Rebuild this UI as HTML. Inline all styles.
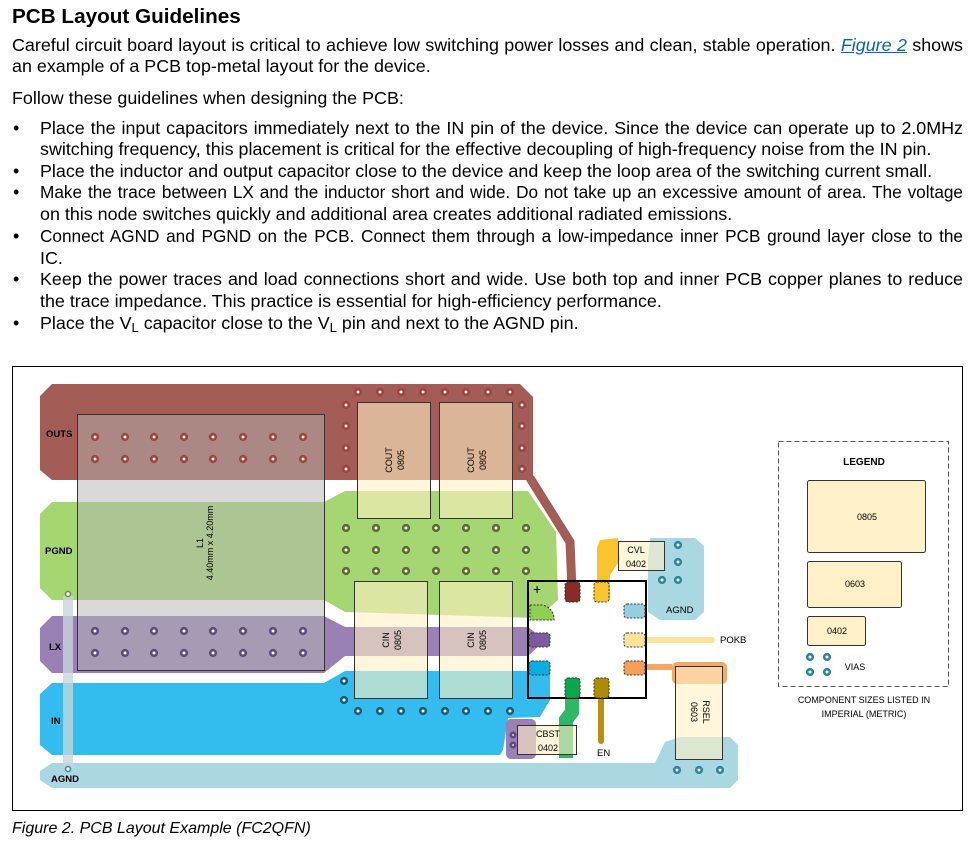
<!DOCTYPE html>
<html><head><meta charset="utf-8"><style>
body{margin:0;width:978px;height:844px;background:#fff;font-family:"Liberation Sans",Arial,sans-serif;color:#000;position:relative;overflow:hidden}
.t{position:absolute;white-space:nowrap;font-size:17.9px;line-height:20px}
.j{width:923px;text-align:justify;text-align-last:justify;white-space:normal;height:20px;overflow:hidden}
.h{position:absolute;left:12px;top:5px;font-size:20.7px;font-weight:bold}
.b{position:absolute;left:13px;font-size:18px;line-height:20px}
a{color:#0563c1;font-style:italic;text-decoration:underline}
svg{position:absolute;left:0;top:0}
svg text{font-family:"Liberation Sans",Arial,sans-serif}
</style></head><body>
<div class="h">PCB Layout Guidelines</div>
<div class="t j" style="left:12px;top:35px;width:951px">Careful circuit board layout is critical to achieve low switching power losses and clean, stable operation. <a>Figure 2</a> shows</div>
<div class="t" style="left:12px;top:56px">an example of a PCB top-metal layout for the device.</div>
<div class="t" style="left:12px;top:88px">Follow these guidelines when designing the PCB:</div>
<div class="b" style="top:118px">•</div><div class="t j" style="left:40px;top:118px">Place the input capacitors immediately next to the IN pin of the device. Since the device can operate up to 2.0MHz</div>
<div class="t" style="left:40px;top:139px">switching frequency, this placement is critical for the effective decoupling of high-frequency noise from the IN pin.</div>
<div class="b" style="top:161px">•</div><div class="t" style="left:40px;top:161px">Place the inductor and output capacitor close to the device and keep the loop area of the switching current small.</div>
<div class="b" style="top:182px">•</div><div class="t j" style="left:40px;top:182px;font-size:17.2px">Make the trace between LX and the inductor short and wide. Do not take up an excessive amount of area. The voltage</div>
<div class="t" style="left:40px;top:204px">on this node switches quickly and additional area creates additional radiated emissions.</div>
<div class="b" style="top:226px">•</div><div class="t j" style="left:40px;top:226px;font-size:17.2px">Connect AGND and PGND on the PCB. Connect them through a low-impedance inner PCB ground layer close to the</div>
<div class="t" style="left:40px;top:248px">IC.</div>
<div class="b" style="top:269px">•</div><div class="t j" style="left:40px;top:269px">Keep the power traces and load connections short and wide. Use both top and inner PCB copper planes to reduce</div>
<div class="t" style="left:40px;top:291px">the trace impedance. This practice is essential for high-efficiency performance.</div>
<div class="b" style="top:313px">•</div><div class="t" style="left:40px;top:313px">Place the V<sub style="font-size:13px;vertical-align:-3px">L</sub> capacitor close to the V<sub style="font-size:13px;vertical-align:-3px">L</sub> pin and next to the AGND pin.</div>
<div class="t" style="left:12px;top:819px;font-style:italic;font-size:16px">Figure 2. PCB Layout Example (FC2QFN)</div>

<svg width="978" height="844" viewBox="0 0 978 844">
<rect x="12.5" y="366.5" width="950" height="444" fill="none" stroke="#000" stroke-width="1"/>
<polygon points="52,763 655,763 665,742 680,737 730,737 738,745 738,780 730,788 52,788 40,780 40,771" fill="#a9d7e2"/>
<polygon points="650,538 695,538 704,546 704,612 695,620 660,620 648,612 648,560" fill="#a9d7e2"/>
<polygon points="52,384 520,384 533,397 533,480 52,480 40,470 40,396" fill="#a45c56"/>
<polyline points="530,478 570,542 572,590" fill="none" stroke="#a45c56" stroke-width="9"/>
<polygon points="52,502 324,502 345,491 528,491 556,532 558,600 538,618 345,612 324,600 52,600 40,588 40,514" fill="#a6d672"/>
<polygon points="52,616 324,616 345,627 528,627 545,640 528,656 345,656 324,673 52,673 40,661 40,628" fill="#9a80b4"/>
<polygon points="52,683 324,683 345,671 528,671 550,665 550,700 540,717 508,718 503,750 500,755 52,755 40,745 40,694" fill="#33bdee"/>
<rect x="506" y="719" width="30" height="40" rx="5" fill="#9a80b4"/>
<polyline points="572,690 572,712 566,720 566,758" fill="none" stroke="#2db866" stroke-width="14"/>
<line x1="601" y1="690" x2="601" y2="741" stroke="#b8900a" stroke-width="6" stroke-linecap="round"/>
<line x1="640" y1="640" x2="712" y2="640" stroke="#fde39a" stroke-width="6" stroke-linecap="round"/>
<polyline points="640,667 672,667" fill="none" stroke="#f5a86a" stroke-width="6"/>
<rect x="672" y="662" width="55" height="22" rx="5" fill="#f5a86a"/>
<polygon points="600,540 618,538 620,560 610,575 610,600 597,600 597,548" fill="#fbc42c"/>
<rect x="77.5" y="414.5" width="247" height="256" fill="#b4b4b4" fill-opacity="0.5" stroke="#333" stroke-width="1"/>
<text transform="translate(203,543) rotate(-90)" font-size="9" text-anchor="middle">L1</text>
<text transform="translate(213,543) rotate(-90)" font-size="9" text-anchor="middle">4.40mm x 4.20mm</text>
<rect x="63" y="596" width="10" height="173" fill="#c8d4dc" opacity="0.8"/>
<circle cx="68" cy="594" r="2.5" fill="#fff" stroke="#6f8a3a" stroke-width="1.5"/>
<circle cx="68" cy="769" r="2.5" fill="#fff" stroke="#2b86a0" stroke-width="1.5"/>
<g fill="#fff0c4" fill-opacity="0.6" stroke="#333" stroke-width="1">
<rect x="357.5" y="402.5" width="73" height="116"/>
<rect x="439.5" y="402.5" width="73" height="116"/>
<rect x="354.5" y="581.5" width="73" height="117"/>
<rect x="439.5" y="581.5" width="73" height="117"/>
<rect x="618.5" y="541.5" width="46" height="29"/>
<rect x="517.5" y="725.5" width="59" height="29"/>
<rect x="675.5" y="666.5" width="47" height="93"/>
</g>
<g font-size="9" text-anchor="middle">
<text transform="translate(392,460) rotate(-90)">COUT</text><text transform="translate(404,460) rotate(-90)">0805</text>
<text transform="translate(474,460) rotate(-90)">COUT</text><text transform="translate(486,460) rotate(-90)">0805</text>
<text transform="translate(389,640) rotate(-90)">CIN</text><text transform="translate(401,640) rotate(-90)">0805</text>
<text transform="translate(474,640) rotate(-90)">CIN</text><text transform="translate(486,640) rotate(-90)">0805</text>
<text x="636" y="553">CVL</text><text x="636" y="567">0402</text>
<text x="548" y="737">CBST</text><text x="548" y="751">0402</text>
<text transform="translate(703,712) rotate(90)">RSEL</text><text transform="translate(691,712) rotate(90)">0603</text>
</g>
<rect x="528" y="581" width="118" height="117" fill="none" stroke="#000" stroke-width="2"/>
<text x="533" y="594" font-size="14">+</text>
<g stroke="#333" stroke-width="1" stroke-dasharray="2,1.5">
<rect x="565" y="582" width="15" height="20" rx="3" fill="#8a2a22"/>
<rect x="594" y="582" width="15" height="20" rx="3" fill="#fbc42c"/>
<path d="M530,605 h12 q10,2 12,12 v3 h-24 z" fill="#8fd050"/>
<rect x="529" y="633" width="21" height="14" rx="3" fill="#7d5b9f"/>
<rect x="529" y="661" width="21" height="14" rx="3" fill="#0aaee0"/>
<rect x="624" y="604" width="21" height="14" rx="3" fill="#92d0e0"/>
<rect x="624" y="633" width="21" height="14" rx="3" fill="#fde39a"/>
<rect x="624" y="661" width="21" height="14" rx="3" fill="#f5a059"/>
<rect x="565" y="678" width="15" height="20" rx="3" fill="#06a84c"/>
<rect x="594" y="678" width="15" height="20" rx="3" fill="#b08a00"/>
</g>
<g font-size="9.5">
<text x="46" y="437" font-weight="bold">OUTS</text>
<text x="45" y="554" font-weight="bold">PGND</text>
<text x="49" y="650" font-weight="bold">LX</text>
<text x="51" y="724" font-weight="bold">IN</text>
<text x="51" y="782" font-weight="bold">AGND</text>
<text x="666" y="613">AGND</text>
<text x="720" y="643">POKB</text>
<text x="597" y="756">EN</text>
</g>
<g fill="#fff" stroke="#a0423c" stroke-width="2.6">
<circle cx="358" cy="392" r="2.8"/><circle cx="380" cy="392" r="2.8"/><circle cx="401" cy="392" r="2.8"/><circle cx="423" cy="392" r="2.8"/><circle cx="445" cy="392" r="2.8"/><circle cx="466" cy="392" r="2.8"/><circle cx="488" cy="392" r="2.8"/><circle cx="510" cy="392" r="2.8"/>
<circle cx="346" cy="405" r="2.8"/><circle cx="346" cy="426" r="2.8"/><circle cx="346" cy="448" r="2.8"/><circle cx="346" cy="469" r="2.8"/>
<circle cx="522" cy="405" r="2.8"/><circle cx="522" cy="426" r="2.8"/><circle cx="522" cy="448" r="2.8"/><circle cx="522" cy="469" r="2.8"/>
<circle cx="95" cy="437" r="2.8"/><circle cx="125" cy="437" r="2.8"/><circle cx="154" cy="437" r="2.8"/><circle cx="184" cy="437" r="2.8"/><circle cx="213" cy="437" r="2.8"/><circle cx="243" cy="437" r="2.8"/><circle cx="273" cy="437" r="2.8"/><circle cx="303" cy="437" r="2.8"/>
<circle cx="95" cy="459" r="2.8"/><circle cx="125" cy="459" r="2.8"/><circle cx="154" cy="459" r="2.8"/><circle cx="184" cy="459" r="2.8"/><circle cx="213" cy="459" r="2.8"/><circle cx="243" cy="459" r="2.8"/><circle cx="273" cy="459" r="2.8"/><circle cx="303" cy="459" r="2.8"/>
</g>
<g fill="#fff" stroke="#5e4a80" stroke-width="2.6">
<circle cx="95" cy="631" r="2.8"/><circle cx="125" cy="631" r="2.8"/><circle cx="154" cy="631" r="2.8"/><circle cx="184" cy="631" r="2.8"/><circle cx="213" cy="631" r="2.8"/><circle cx="243" cy="631" r="2.8"/><circle cx="273" cy="631" r="2.8"/><circle cx="303" cy="631" r="2.8"/>
<circle cx="95" cy="653" r="2.8"/><circle cx="125" cy="653" r="2.8"/><circle cx="154" cy="653" r="2.8"/><circle cx="184" cy="653" r="2.8"/><circle cx="213" cy="653" r="2.8"/><circle cx="243" cy="653" r="2.8"/><circle cx="273" cy="653" r="2.8"/><circle cx="303" cy="653" r="2.8"/>
<circle cx="513" cy="735" r="2.2"/><circle cx="513" cy="745" r="2.2"/>
</g>
<g fill="#fff" stroke="#5a6a34" stroke-width="2.6">
<circle cx="346" cy="528" r="2.8"/><circle cx="376" cy="528" r="2.8"/><circle cx="406" cy="528" r="2.8"/><circle cx="436" cy="528" r="2.8"/><circle cx="466" cy="528" r="2.8"/><circle cx="496" cy="528" r="2.8"/><circle cx="526" cy="528" r="2.8"/>
<circle cx="346" cy="550" r="2.8"/><circle cx="376" cy="550" r="2.8"/><circle cx="406" cy="550" r="2.8"/><circle cx="436" cy="550" r="2.8"/><circle cx="466" cy="550" r="2.8"/><circle cx="496" cy="550" r="2.8"/><circle cx="526" cy="550" r="2.8"/>
<circle cx="346" cy="571" r="2.8"/><circle cx="376" cy="571" r="2.8"/><circle cx="406" cy="571" r="2.8"/><circle cx="436" cy="571" r="2.8"/><circle cx="466" cy="571" r="2.8"/><circle cx="496" cy="571" r="2.8"/><circle cx="526" cy="571" r="2.8"/>
</g>
<g fill="#fff" stroke="#1c5a76" stroke-width="2.6">
<circle cx="344" cy="681" r="2.8"/><circle cx="344" cy="700" r="2.8"/>
<circle cx="358" cy="711" r="2.8"/><circle cx="380" cy="711" r="2.8"/><circle cx="401" cy="711" r="2.8"/><circle cx="423" cy="711" r="2.8"/><circle cx="445" cy="711" r="2.8"/><circle cx="466" cy="711" r="2.8"/><circle cx="488" cy="711" r="2.8"/><circle cx="510" cy="711" r="2.8"/>
</g>
<g fill="#fff" stroke="#2b86a0" stroke-width="2.6">
<circle cx="678" cy="545" r="2.8"/><circle cx="678" cy="562" r="2.8"/><circle cx="678" cy="580" r="2.8"/><circle cx="662" cy="580" r="2.8"/>
<circle cx="677" cy="770" r="2.8"/><circle cx="699" cy="770" r="2.8"/><circle cx="720" cy="770" r="2.8"/>
<circle cx="810" cy="657" r="2.8"/><circle cx="827" cy="657" r="2.8"/><circle cx="810" cy="672" r="2.8"/><circle cx="827" cy="672" r="2.8"/>
</g>
<rect x="778.5" y="441.5" width="170" height="245" fill="none" stroke="#555" stroke-dasharray="5,3"/>
<text x="864" y="465" font-size="10" font-weight="bold" text-anchor="middle">LEGEND</text>
<g fill="#fef0c8" stroke="#333">
<rect x="807.5" y="480.5" width="118" height="72" rx="2"/>
<rect x="807.5" y="561.5" width="94" height="46" rx="2"/>
<rect x="807.5" y="616.5" width="58" height="29" rx="2"/>
</g>
<g font-size="9" text-anchor="middle">
<text x="867" y="520">0805</text><text x="855" y="587">0603</text><text x="837" y="634">0402</text>
<text x="855" y="670">VIAS</text>
<text x="864" y="703">COMPONENT SIZES LISTED IN</text>
<text x="864" y="717">IMPERIAL (METRIC)</text>
</g>
</svg>
</body></html>
